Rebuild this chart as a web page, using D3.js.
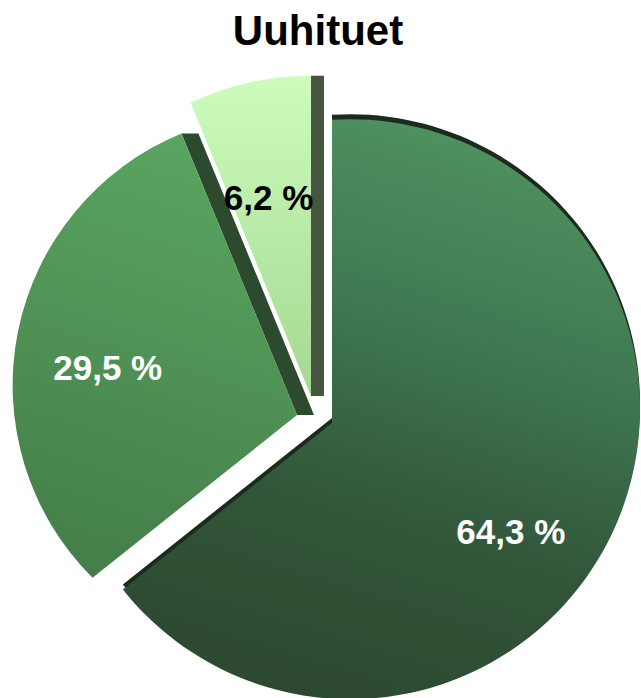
<!DOCTYPE html>
<html>
<head>
<meta charset="utf-8">
<script src="https://cdn.jsdelivr.net/npm/d3@7"></script>
<style>
  html, body { margin: 0; padding: 0; background: #ffffff; }
  svg { display: block; }
</style>
</head>
<body>
<div id="chart"></div>
<script>
// ---- data ----
const title = "Uuhituet";
const categories = ["Osa 1", "Osa 2", "Osa 3"];
const values = [64.3, 29.5, 6.2];
const labelColors = ["#ffffff", "#ffffff", "#000000"];

// ---- layout / style ----
const W = 641, H = 698;
const center = { x: 318.5, y: 394 };
const explode = 35;
const radii = [290, 272, 284];
const vertexOffsets = [[13.5, 29], [-21.5, 21], [-7.5, 2]];
const labelFrac = 0.7;
const labelNudge = [[-4, 20], [-5, 0], [-4, -4]];
const faceStops = [
  { x1: 420, y1: 130, x2: 250, y2: 690, stops: [[0, "#4e905e"], [0.35, "#3e7550"], [0.65, "#32563a"], [1, "#2c4830"]] },
  { x1: 200, y1: 130, x2: 60, y2: 570, stops: [[0, "#5aa661"], [1, "#447d49"]] },
  { x1: 300, y1: 75, x2: 300, y2: 400, stops: [[0, "#cdfcbc"], [1, "#a3d892"]] }
];
const walls = [
  { kind: "shift", dx: 0, dy: -5, color: "#1b2b1d" },
  { kind: "edge", edge: "end", dx: 17, dy: 0, color: "#2c4b2e" },
  { kind: "edge", edge: "end", dx: 13, dy: 0, color: "#46563f" }
];

const svg = d3.select("#chart").append("svg").attr("width", W).attr("height", H);
const defs = svg.append("defs");

faceStops.forEach((g, i) => {
  const lg = defs.append("linearGradient").attr("id", "grad" + i)
    .attr("gradientUnits", "userSpaceOnUse")
    .attr("x1", g.x1).attr("y1", g.y1).attr("x2", g.x2).attr("y2", g.y2);
  g.stops.forEach(s => lg.append("stop").attr("offset", s[0]).attr("stop-color", s[1]));
});

svg.append("text")
  .attr("x", 318).attr("y", 45)
  .attr("text-anchor", "middle")
  .attr("font-family", "'Liberation Sans', Arial, Helvetica, sans-serif")
  .attr("font-weight", "bold").attr("font-size", 42)
  .attr("fill", "#000").text(title);

const pie = d3.pie().sort(null).startAngle(0).endAngle(2 * Math.PI);
const arcs = pie(values);

const dir = a => [Math.sin(a), -Math.cos(a)];

function geom(d, i) {
  const mid = (d.startAngle + d.endAngle) / 2;
  const [mx, my] = dir(mid);
  const C = { x: center.x + explode * mx, y: center.y + explode * my };
  const V = { x: center.x + vertexOffsets[i][0], y: center.y + vertexOffsets[i][1] };
  const R = radii[i];
  function hit(a) {
    const [dx, dy] = dir(a);
    const vx = V.x - C.x, vy = V.y - C.y;
    const b = dx * vx + dy * vy;
    const c = vx * vx + vy * vy - R * R;
    const t = -b + Math.sqrt(b * b - c);
    return { x: V.x + t * dx, y: V.y + t * dy };
  }
  const S = hit(d.startAngle), E = hit(d.endAngle);
  return { C, V, R, S, E, mid };
}

function facePath(g, ox = 0, oy = 0) {
  const p = d3.path();
  p.moveTo(g.V.x + ox, g.V.y + oy);
  p.lineTo(g.S.x + ox, g.S.y + oy);
  const a0 = Math.atan2(g.S.y - g.C.y, g.S.x - g.C.x);
  const a1 = Math.atan2(g.E.y - g.C.y, g.E.x - g.C.x);
  p.arc(g.C.x + ox, g.C.y + oy, g.R, a0, a1, false);
  p.closePath();
  return p.toString();
}

const gs = arcs.map((d, i) => geom(d, i));

arcs.forEach((d, i) => {
  const g = gs[i];
  const w = walls[i];
  const grp = svg.append("g").attr("class", "slice").attr("data-category", categories[i]);
  if (w.kind === "shift") {
    grp.append("path").attr("d", facePath(g, w.dx, w.dy)).attr("fill", w.color);
  } else {
    const P = w.edge === "end" ? g.E : g.S;
    const q = d3.path();
    q.moveTo(g.V.x, g.V.y);
    q.lineTo(P.x, P.y);
    q.lineTo(P.x + w.dx, P.y + w.dy);
    q.lineTo(g.V.x + w.dx, g.V.y + w.dy);
    q.closePath();
    grp.append("path").attr("d", q.toString()).attr("fill", w.color);
  }
  grp.append("path").attr("d", facePath(g)).attr("fill", `url(#grad${i})`);
});

arcs.forEach((d, i) => {
  const g = gs[i];
  const [mx, my] = dir(g.mid);
  const r = labelFrac * g.R;
  svg.append("text")
    .attr("x", g.V.x + r * mx + labelNudge[i][0])
    .attr("y", g.V.y + r * my + labelNudge[i][1])
    .attr("dy", "0.36em")
    .attr("text-anchor", "middle")
    .attr("font-family", "'Liberation Sans', Arial, Helvetica, sans-serif")
    .attr("font-weight", "bold").attr("font-size", 35)
    .attr("fill", labelColors[i])
    .text(d3.format(".1f")(d.data).replace(".", ",") + " %");
});
</script>
</body>
</html>
